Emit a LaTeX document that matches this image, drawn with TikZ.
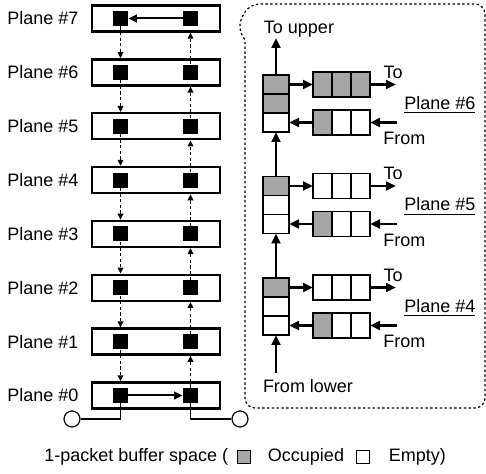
\documentclass[tikz,border=0pt]{standalone}
\usepackage{fontspec}
\setmainfont{Liberation Sans}
\usetikzlibrary{arrows.meta,positioning}
\definecolor{OccFill}{HTML}{A6A6A6}
\definecolor{LinDark}{HTML}{000000}
\tikzset{
  every picture/.append style={font=\fontsize{9}{11}\selectfont, >=Stealth},
  plane/.style={rectangle, draw=LinDark, line width=1.2pt, minimum width=64pt,
                minimum height=13pt, inner sep=0pt},
  buf/.style={rectangle, fill=LinDark, minimum size=7.5pt, inner sep=0pt},
  port/.style={circle, draw=LinDark, fill=white, line width=0.6pt, minimum size=8pt,
               inner sep=0pt},
  lbl/.style={inner sep=1pt},
  scell/.style={rectangle, draw=LinDark, line width=0.6pt, minimum width=13pt,
                minimum height=9.5pt, inner sep=0pt, outer sep=0pt},
  qcell/.style={rectangle, draw=LinDark, line width=0.6pt, minimum width=9.5pt,
                minimum height=12.5pt, inner sep=0pt, outer sep=0pt},
  key/.style={rectangle, draw=LinDark, line width=0.6pt, minimum size=6.5pt,
              inner sep=0pt, outer sep=0pt},
  flow/.style={-{Triangle[length=5pt,width=4.4pt]}, line width=1.2pt},
  hop/.style={-{Triangle[length=4.2pt,width=3.8pt]}, line width=1pt},
  vdot/.style={-{Triangle[length=3pt,width=2.8pt]}, line width=0.75pt,
               dash pattern=on 1.6pt off 1.2pt},
  wire/.style={line width=0.6pt},
  callout/.style={line width=0.6pt, dash pattern=on 1.2pt off 1.2pt},
}

\begin{document}
\begin{tikzpicture}[x=0.5pt,y=-0.5pt]
\useasboundingbox (0,0) rectangle (486,474);

% ---------------- planes ----------------------------------------------------------
\foreach \i in {0,...,7}{
  \node[plane] (p\i) at (156,{395.5-53.86*\i}) {};
  \node[buf] (pl\i) at (120.5,{395.5-53.86*\i}) {};
  \node[buf] (pr\i) at (190.5,{395.5-53.86*\i}) {};
  \node[lbl, left=5pt of p\i] (t\i) {Plane \#\i};
}
\foreach \i in {1,...,7}{
  \pgfmathtruncatemacro{\j}{\i-1}
  \draw[vdot] (pl\i.south) -- (pl\i |- p\j.north);
  \draw[vdot] (pr\j.north) -- (pr\j |- p\i.south);
}
\draw[hop] (pr7) -- (pl7);
\draw[hop] (pl0) -- (pr0);

% ---------------- ports -----------------------------------------------------------
\node[port] (inL) at (72,419) {};
\node[port] (outR) at (240,419) {};
\draw[wire] (pl0.south) |- (inL.east);
\draw[wire] (pr0.south) |- (outR.west);

% ---------------- router detail ---------------------------------------------------
\draw[callout] (245,200) [rounded corners=5pt] -- (245,408) -- (485,408) -- (485,4)
  -- (249,4) -- (237,27) [sharp corners] -- (245,40) -- cycle;

\foreach \k/\yo/\sb/\oq in {6/75/OccFill/OccFill, 5/176.5/white/white, 4/278/white/white}{
  \node[scell, fill=OccFill] (sa\k) at (276,\yo+9.5) {};
  \node[scell, fill=\sb, below=0pt of sa\k] (sb\k) {};
  \node[scell, fill=white, below=0pt of sb\k] (sc\k) {};
  \node[qcell, fill=\oq] (oa\k) at (322.5,\yo+9.5) {};
  \node[qcell, fill=\oq, right=0pt of oa\k] (ob\k) {};
  \node[qcell, fill=\oq, right=0pt of ob\k] (oc\k) {};
  \node[qcell, fill=OccFill] (ia\k) at (322.5,\yo+47.5) {};
  \node[qcell, fill=white, right=0pt of ia\k] (ib\k) {};
  \node[qcell, fill=white, right=0pt of ib\k] (ic\k) {};
  \coordinate (to\k) at (396,\yo+9.5);
  \coordinate (fr\k) at (397,\yo+47.5);
  \draw[flow] (sa\k) -- (oa\k);
  \draw[flow] (oc\k) -- (to\k);
  \draw[flow] (fr\k) -- (ic\k);
  \draw[flow] (ia\k) -- (sc\k);
  \node[lbl] (tt\k) at (393,\yo-3) {To};
  \node[lbl, anchor=west] (tp\k) at (402,\yo+30) {\underline{Plane \#\k}};
  \node[lbl, anchor=west] (tf\k) at (381,\yo+63.5) {From};
}
\coordinate (up) at (276,38);
\coordinate (lo) at (276,373);
\draw[flow] (sa6) -- (up);
\draw[flow] (sa5) -- (sc6);
\draw[flow] (sa4) -- (sc5);
\draw[flow] (lo) -- (sc4);
\node[lbl] (tu) at (299,29) {To upper};
\node[lbl] (tl) at (308,386) {From lower};

% ---------------- legend ----------------------------------------------------------
\node[lbl, anchor=west] (lg1) at (42,457) {1-packet buffer space (};
\node[key, fill=OccFill, right=3.5pt of lg1] (lk1) {};
\node[lbl, right=7.5pt of lk1] (lg2) {Occupied};
\node[key, fill=white, right=5pt of lg2] (lk2) {};
\node[lbl, right=8.5pt of lk2] (lg3) {Empty)};

\end{tikzpicture}
\end{document}
